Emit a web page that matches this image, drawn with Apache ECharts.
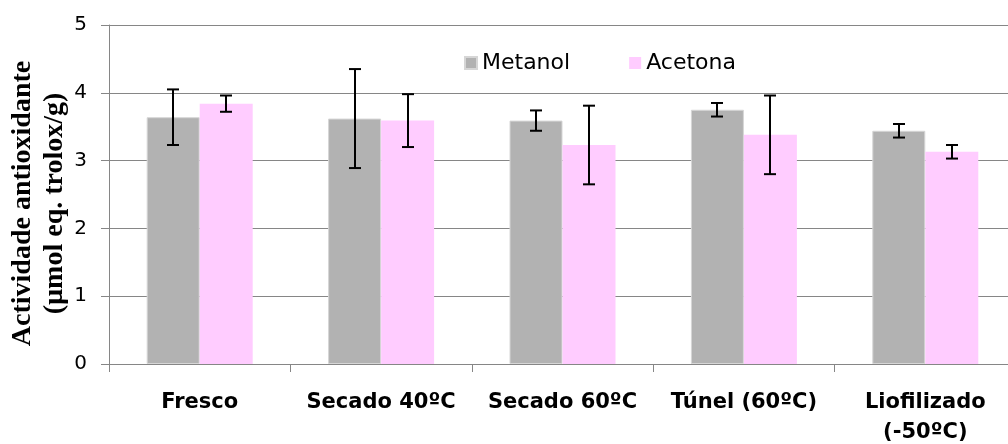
<!DOCTYPE html>
<html><head><meta charset="utf-8">
<script src="https://cdn.jsdelivr.net/npm/echarts@6/dist/echarts.min.js"></script>
<style>html,body{margin:0;padding:0;background:#fff}#c{width:1008px;height:444px}</style>
</head><body><div id="c"></div>
<script>
const categories = ['Fresco', 'Secado 40ºC', 'Secado 60ºC', 'Túnel (60ºC)', 'Liofilizado\n(-50ºC)'];
const metanol = [3.64, 3.62, 3.59, 3.75, 3.44];
const metanolErr = [0.41, 0.73, 0.15, 0.10, 0.10];
const acetona = [3.84, 3.59, 3.23, 3.38, 3.13];
const acetonaErr = [0.12, 0.39, 0.58, 0.58, 0.10];
const yTicks = [0, 1, 2, 3, 4, 5];

const BW = 53;
function errSeries(vals, errs, offset) {
  return {
    type: 'custom',
    z: 10,
    silent: true,
    data: vals.map((v, i) => [i, v - errs[i], v + errs[i]]),
    renderItem: function (params, api) {
      const lo = api.coord([api.value(0), api.value(1)]);
      const hi = api.coord([api.value(0), api.value(2)]);
      const x = Math.round(lo[0] + offset);
      const cap = 6;
      const st = { stroke: '#000', lineWidth: 2 };
      return {
        type: 'group',
        children: [
          { type: 'line', shape: { x1: x, y1: hi[1], x2: x, y2: lo[1] }, style: st },
          { type: 'line', shape: { x1: x - cap, y1: hi[1], x2: x + cap, y2: hi[1] }, style: st },
          { type: 'line', shape: { x1: x - cap, y1: lo[1], x2: x + cap, y2: lo[1] }, style: st }
        ]
      };
    }
  };
}

const chart = echarts.init(document.getElementById('c'));
chart.setOption({
  animation: false,
  backgroundColor: '#fff',
  grid: { left: 109, right: -8, top: 25, bottom: 80, containLabel: false, outerBoundsMode: 'none' },
  legend: {
    left: 459, top: 47,
    itemWidth: 12, itemHeight: 12, itemGap: 59,
    icon: 'rect',
    textStyle: { fontFamily: 'DejaVu Sans', fontSize: 22, color: '#000' },
    data: ['Metanol', 'Acetona']
  },
  xAxis: {
    type: 'category',
    data: categories,
    axisLine: { lineStyle: { color: '#868686', width: 1 } },
    axisTick: { show: true, alignWithLabel: false, length: 8, lineStyle: { color: '#868686' } },
    axisLabel: {
      margin: 24, interval: 0,
      fontFamily: 'DejaVu Sans', fontWeight: 'bold', fontSize: 21, color: '#000', lineHeight: 30
    }
  },
  yAxis: {
    type: 'value',
    min: 0, max: 5, interval: 1,
    name: 'Actividade antioxidante\n(µmol eq. trolox/g)',
    nameLocation: 'middle',
    nameGap: 38,
    nameRotate: 90,
    nameMoveOverlap: false,
    nameTextStyle: { fontFamily: 'Liberation Serif', fontWeight: 'bold', fontSize: 28, color: '#000', lineHeight: 32, padding: [0, 18, 0, 0] },
    axisLine: { show: true, lineStyle: { color: '#868686', width: 1 } },
    axisTick: { show: true, length: 8, lineStyle: { color: '#868686' } },
    axisLabel: { margin: 22, fontFamily: 'DejaVu Sans', fontSize: 20, color: '#000',
      formatter: v => yTicks.includes(v) ? String(v) : '' },
    splitLine: { lineStyle: { color: '#868686', width: 1 } }
  },
  series: [
    { name: 'Metanol', type: 'bar', data: metanol, barWidth: BW, barGap: '0%',
      itemStyle: { color: '#b2b2b2', borderColor: '#d6d6d6', borderWidth: 1 } },
    { name: 'Acetona', type: 'bar', data: acetona, barWidth: BW, barGap: '0%',
      itemStyle: { color: '#ffccff' } },
    errSeries(metanol, metanolErr, -BW / 2),
    errSeries(acetona, acetonaErr, BW / 2)
  ]
});
</script></body></html>
